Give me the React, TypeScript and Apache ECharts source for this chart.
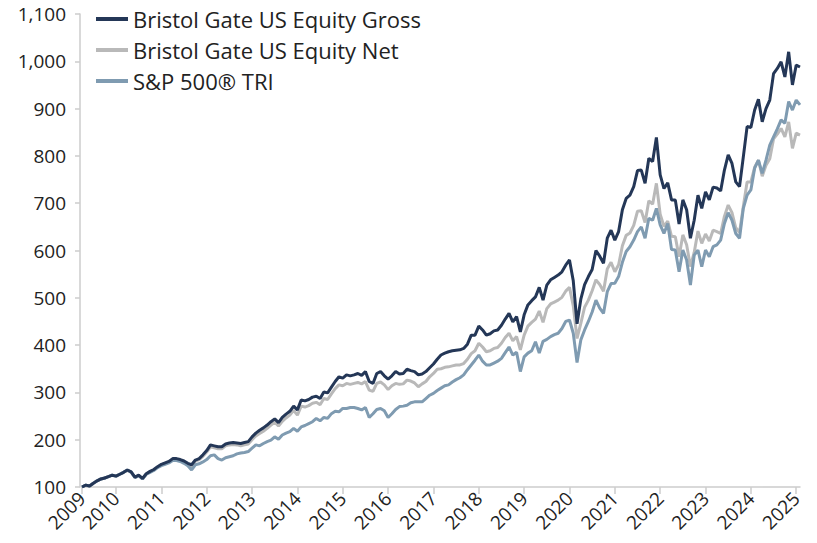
import React, { useEffect, useRef } from "react";
import * as echarts from "echarts";

// Monthly observations, Apr 2009 .. Feb 2025 (growth of 100)
const START_YEAR = 2009;
const START_MONTH = 4;
const POINTS = 191;

const months: string[] = [];
for (let i = 0; i < POINTS; i++) {
  const m = START_MONTH - 1 + i;
  const y = START_YEAR + Math.floor(m / 12);
  const mm = (m % 12) + 1;
  months.push(`${y}-${mm < 10 ? "0" + mm : mm}`);
}

const seriesNames = [
  "Bristol Gate US Equity Gross",
  "Bristol Gate US Equity Net",
  "S&P 500® TRI",
];

const gross = [
  100, 104, 102, 108, 113, 117, 119, 122, 125, 123, 127, 131, 136, 132, 121, 125, 118, 128, 133, 137,
  143, 148, 151, 154, 160, 160, 158, 155, 150, 147, 157, 160, 168, 177, 189, 187, 185, 185, 191, 193,
  194, 193, 192, 194, 196, 206, 214, 220, 225, 231, 238, 244, 236, 247, 254, 260, 271, 263, 284, 282,
  285, 290, 292, 287, 301, 299, 311, 323, 333, 330, 337, 335, 337, 340, 336, 344, 323, 319, 340, 344,
  335, 328, 335, 344, 339, 340, 349, 346, 344, 337, 339, 344, 352, 360, 370, 379, 383, 386, 388, 389,
  390, 393, 402, 421, 421, 440, 432, 421, 424, 430, 432, 442, 455, 467, 449, 460, 428, 464, 485, 494,
  502, 522, 495, 527, 538, 543, 548, 555, 569, 580, 536, 445, 497, 528, 545, 560, 600, 588, 573, 626,
  643, 622, 640, 686, 710, 717, 735, 769, 770, 742, 795, 788, 839, 760, 731, 743, 707, 707, 656, 707,
  686, 626, 664, 717, 689, 724, 707, 734, 732, 726, 770, 802, 784, 745, 735, 798, 862, 860, 897, 920,
  872, 900, 918, 974, 985, 999, 967, 1020, 950, 992, 988,
];

const net = [
  100, 104, 102, 108, 113, 117, 119, 122, 125, 123, 127, 131, 135, 131, 120, 124, 117, 127, 132, 136,
  142, 147, 150, 153, 158, 158, 156, 153, 148, 143, 155, 158, 165, 174, 185, 183, 181, 181, 187, 189,
  190, 189, 187, 189, 191, 200, 208, 213, 218, 224, 231, 237, 229, 239, 246, 252, 262, 252, 271, 269,
  272, 277, 279, 274, 287, 285, 297, 308, 316, 314, 319, 317, 319, 321, 318, 323, 305, 302, 319, 322,
  316, 306, 314, 319, 317, 318, 326, 324, 320, 312, 318, 323, 333, 340, 349, 350, 353, 354, 356, 358,
  358, 361, 370, 382, 388, 404, 396, 386, 388, 393, 395, 404, 416, 425, 409, 418, 390, 421, 440, 448,
  455, 472, 448, 477, 487, 491, 495, 501, 514, 522, 483, 414, 446, 480, 495, 515, 538, 528, 514, 561,
  575, 555, 570, 610, 632, 637, 653, 683, 684, 659, 705, 698, 742, 677, 651, 662, 630, 629, 587, 633,
  612, 566, 596, 641, 615, 635, 620, 643, 640, 636, 672, 696, 680, 648, 638, 693, 745, 745, 776, 791,
  757, 780, 794, 836, 846, 858, 840, 872, 816, 848, 844,
];

const sp500 = [
  100, 104, 102, 108, 113, 117, 119, 122, 125, 123, 127, 131, 136, 132, 120, 124, 117, 127, 131, 135,
  141, 145, 148, 151, 156, 156, 154, 150, 145, 136, 147, 149, 153, 158, 166, 168, 160, 157, 162, 164,
  166, 170, 172, 173, 175, 182, 189, 187, 192, 196, 199, 206, 201, 210, 214, 217, 224, 218, 227, 230,
  234, 238, 245, 240, 247, 245, 255, 260, 259, 266, 266, 268, 268, 266, 263, 268, 247, 255, 264, 266,
  261, 247, 255, 264, 270, 271, 273, 278, 280, 280, 280, 287, 294, 298, 304, 309, 314, 316, 322, 327,
  331, 337, 348, 358, 368, 379, 366, 358, 358, 362, 366, 372, 384, 396, 379, 385, 344, 375, 383, 388,
  407, 383, 408, 412, 418, 422, 425, 435, 450, 453, 425, 363, 411, 432, 450, 470, 495, 478, 467, 513,
  530, 531, 545, 575, 598, 608, 622, 640, 650, 626, 668, 664, 689, 654, 636, 657, 602, 601, 555, 601,
  580, 527, 590, 601, 566, 601, 587, 608, 612, 622, 657, 680, 664, 636, 626, 689, 717, 728, 774, 791,
  763, 791, 823, 840, 857, 876, 869, 915, 897, 918, 908,
];

const yTicks = { min: 100, max: 1100, interval: 100 };
const colors = ["#243757", "#b9b9b9", "#7f9bb1"];
const FONT = "'Open Sans', sans-serif";

export default function App() {
  const ref = useRef<HTMLDivElement>(null);
  useEffect(() => {
    document.body.style.margin = "0";
    if (!ref.current) return;
    const chart = echarts.init(ref.current, undefined, { renderer: "svg" });
    const showLabel = (idx: number, val: string) => idx === 0 || val.slice(5) === "01";
    chart.setOption({
      animation: false,
      color: colors,
      textStyle: { fontFamily: FONT },
      grid: { left: 82, right: 17, top: 14, bottom: 56, containLabel: false },
      legend: {
        orient: "vertical",
        left: 91,
        top: 3,
        icon: "rect",
        itemWidth: 32,
        itemHeight: 4,
        itemGap: 9,
        textStyle: { fontFamily: FONT, fontSize: 22, color: "#222" },
        data: seriesNames,
      },
      xAxis: {
        type: "category",
        data: months,
        boundaryGap: false,
        axisLine: { lineStyle: { color: "#cccccc", width: 1.5 } },
        axisTick: { interval: showLabel, length: 7, lineStyle: { color: "#cccccc", width: 1.5 } },
        axisLabel: {
          interval: showLabel,
          rotate: 45,
          margin: 8,
          formatter: (v: string) => v.slice(0, 4),
          fontFamily: FONT,
          fontSize: 19,
          color: "#222",
        },
        splitLine: { show: false },
      },
      yAxis: {
        type: "value",
        min: yTicks.min,
        max: yTicks.max,
        interval: yTicks.interval,
        offset: 2,
        axisLine: { show: true, lineStyle: { color: "#cccccc", width: 1.5 } },
        axisTick: { show: true, length: 5, lineStyle: { color: "#cccccc", width: 1.5 } },
        axisLabel: {
          margin: 14,
          fontFamily: FONT,
          fontSize: 19,
          color: "#222",
          formatter: (v: number) => v.toLocaleString("en-US"),
        },
        splitLine: { show: false },
      },
      series: [
        { name: seriesNames[0], type: "line", data: gross, showSymbol: false, lineStyle: { width: 3 }, z: 4 },
        { name: seriesNames[1], type: "line", data: net, showSymbol: false, lineStyle: { width: 3 }, z: 2 },
        { name: seriesNames[2], type: "line", data: sp500, showSymbol: false, lineStyle: { width: 3 }, z: 3 },
      ],
    });
    return () => chart.dispose();
  }, []);
  return <div ref={ref} style={{ width: 817, height: 543 }} />;
}
